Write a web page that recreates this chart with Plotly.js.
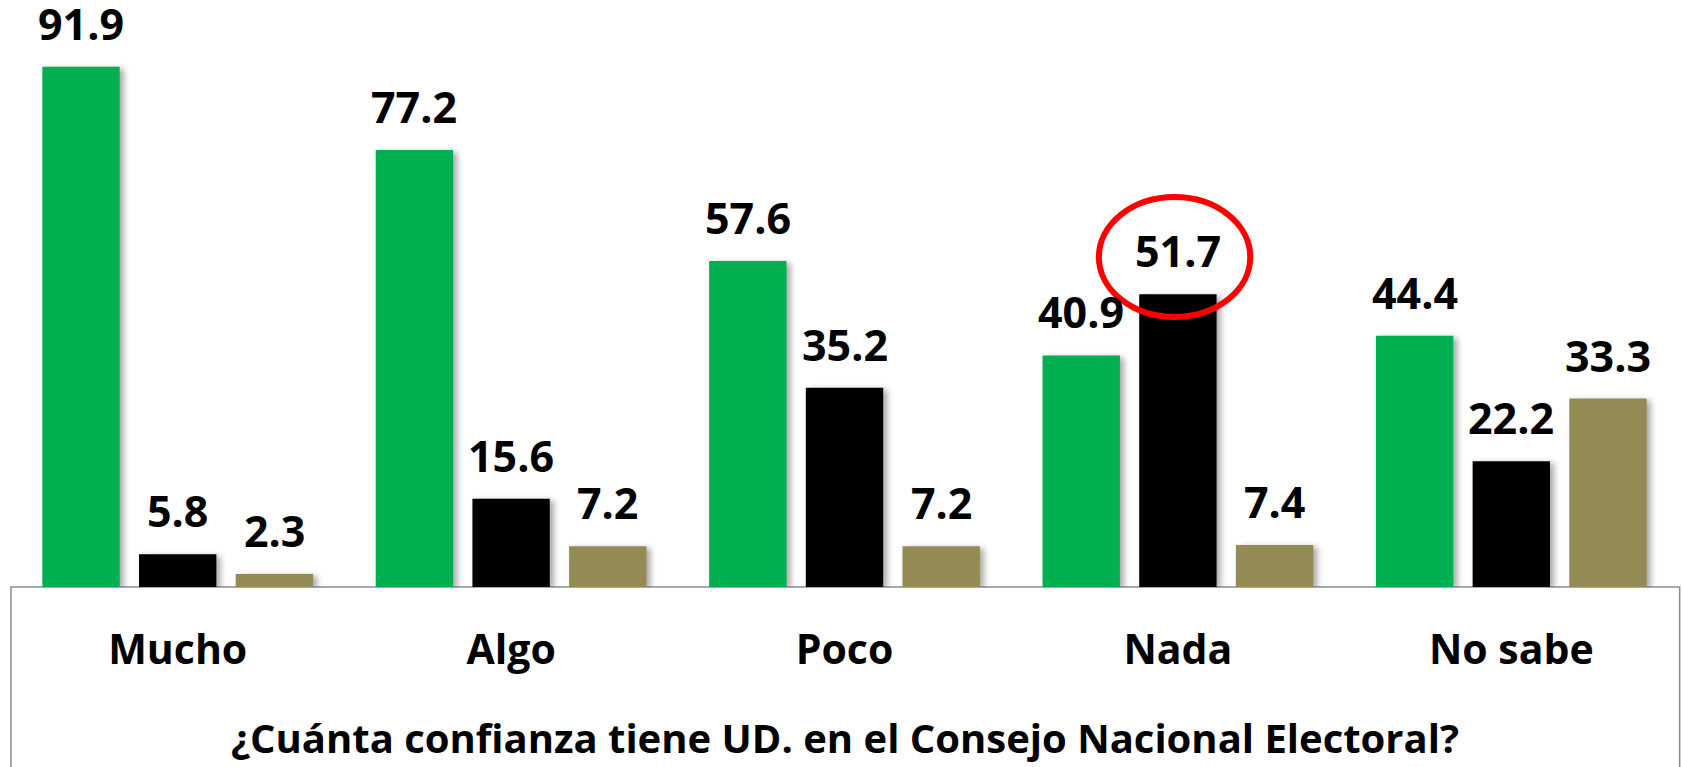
<!DOCTYPE html>
<html>
<head>
<meta charset="utf-8">
<script src="https://cdn.plot.ly/plotly-3.0.1.min.js"></script>
<style>
  html, body { margin: 0; padding: 0; background: #fff; }
  #chart { width: 1683px; height: 767px; }
  .trace.bars .point path { filter: drop-shadow(4px 2px 3px rgba(0,0,0,0.35)); }
</style>
</head>
<body>
<div id="chart"></div>
<script>
const categories = ["Mucho", "Algo", "Poco", "Nada", "No sabe"];
const seriesA = [91.9, 77.2, 57.6, 40.9, 44.4];
const seriesB = [5.8, 15.6, 35.2, 51.7, 22.2];
const seriesC = [2.3, 7.2, 7.2, 7.4, 33.3];
const axisTitle = "¿Cuánta confianza tiene UD. en el Consejo Nacional Electoral?";

const colors = ["#00B050", "#000000", "#948A54"];
const allSeries = [seriesA, seriesB, seriesC];
const FONT = "Open Sans, Liberation Sans, sans-serif";

const traces = allSeries.map((vals, i) => ({
  type: "bar",
  x: categories,
  y: vals,
  marker: { color: colors[i], line: { width: 0 } },
  hoverinfo: "skip",
  showlegend: false
}));

const pitch = 96.7;
const annotations = [];
allSeries.forEach((vals, i) => {
  vals.forEach((v, j) => {
    annotations.push({
      x: categories[j], y: v, xref: "x", yref: "y",
      text: "<b>" + v.toFixed(1) + "</b>", showarrow: false,
      xanchor: "center", yanchor: "bottom",
      xshift: (i - 1) * pitch, yshift: 12,
      font: { family: FONT, size: 43, color: "#000" }
    });
  });
});
annotations.push({
  x: 0.5, y: 0, xref: "paper", yref: "paper",
  text: "<b>" + axisTitle + "</b>", showarrow: false,
  xanchor: "center", yanchor: "top", yshift: -121,
  font: { family: FONT, size: 40, color: "#000" }
});

const layout = {
  width: 1683, height: 767,
  margin: { l: 11, r: 5, t: 0, b: 180, pad: 0 },
  paper_bgcolor: "#fff", plot_bgcolor: "#fff",
  barmode: "group", bargap: 0.13, bargroupgap: 0.2,
  font: { family: FONT, color: "#000" },
  xaxis: {
    type: "category", showgrid: false, zeroline: false, showline: false,
    ticks: "", ticklabelstandoff: 35,
    tickfont: { family: FONT, size: 41, color: "#000", weight: "bold" }
  },
  yaxis: {
    range: [0, 103.7], showgrid: false, zeroline: false, showline: false,
    showticklabels: false, ticks: "", fixedrange: true
  },
  annotations: annotations,
  shapes: [
    { type: "rect", xref: "paper", yref: "paper", x0: 0, x1: 1.001, y0: -2, y1: 0,
      line: { color: "#8c8c8c", width: 1.5 }, fillcolor: "rgba(0,0,0,0)", layer: "below" },
    { type: "circle", xref: "x", yref: "y", x0: 2.763, x1: 3.217, y0: 47.7, y1: 68.9,
      line: { color: "#FF0000", width: 6 }, fillcolor: "rgba(0,0,0,0)" }
  ]
};

Plotly.newPlot("chart", traces, layout, { displayModeBar: false, staticPlot: true });
</script>
</body>
</html>
